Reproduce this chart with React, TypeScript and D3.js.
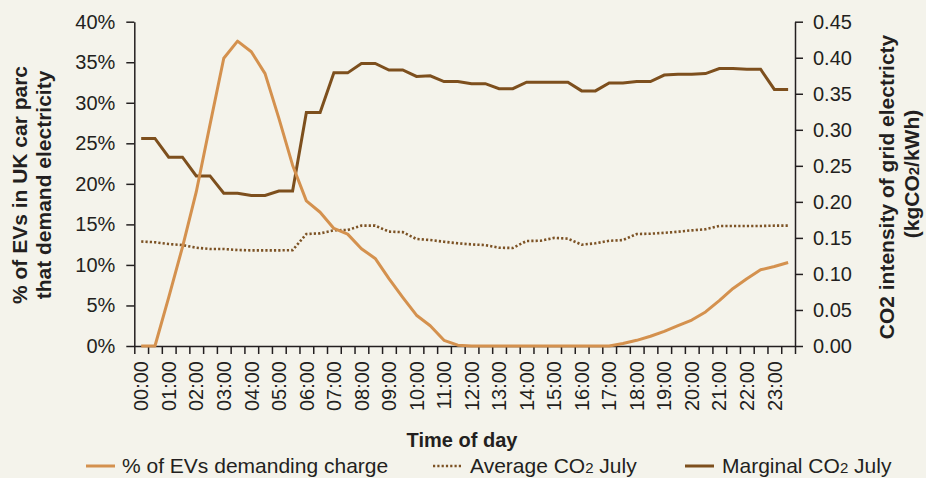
import React, { useRef, useEffect } from 'react';
import * as d3 from 'd3';

const slots = [
  '00:00', '00:30', '01:00', '01:30', '02:00', '02:30', '03:00', '03:30',
  '04:00', '04:30', '05:00', '05:30', '06:00', '06:30', '07:00', '07:30',
  '08:00', '08:30', '09:00', '09:30', '10:00', '10:30', '11:00', '11:30',
  '12:00', '12:30', '13:00', '13:30', '14:00', '14:30', '15:00', '15:30',
  '16:00', '16:30', '17:00', '17:30', '18:00', '18:30', '19:00', '19:30',
  '20:00', '20:30', '21:00', '21:30', '22:00', '22:30', '23:00', '23:30',
];

// % of EVs demanding charge (left axis, in %)
const evDemand = [
  0, 0, 6.0, 12.2, 19.0, 27.3, 35.5, 37.6, 36.3, 33.6, 28.1, 22.3,
  17.9, 16.5, 14.5, 13.8, 12.0, 10.8, 8.3, 6.0, 3.8, 2.5, 0.7, 0.1,
  0, 0, 0, 0, 0, 0, 0, 0, 0, 0, 0, 0.3,
  0.7, 1.2, 1.8, 2.5, 3.2, 4.2, 5.6, 7.1, 8.3, 9.4, 9.8, 10.3,
];

// kgCO2/kWh (right axis)
const averageCO2 = [
  0.145, 0.144, 0.1415, 0.14, 0.1364, 0.1346, 0.1346, 0.1332, 0.1327, 0.1327, 0.1327, 0.133,
  0.1554, 0.1563, 0.1605, 0.161, 0.167, 0.167, 0.1587, 0.158, 0.1485, 0.147, 0.1447, 0.1425,
  0.141, 0.14, 0.1364, 0.136, 0.1457, 0.146, 0.15, 0.149, 0.1406, 0.1425, 0.146, 0.147,
  0.1554, 0.1558, 0.157, 0.1586, 0.1605, 0.162, 0.1665, 0.1665, 0.1665, 0.1665, 0.167, 0.167,
];

const marginalCO2 = [
  0.288, 0.288, 0.262, 0.262, 0.236, 0.236, 0.212, 0.212, 0.209, 0.209, 0.215, 0.215,
  0.324, 0.324, 0.379, 0.379, 0.392, 0.392, 0.383, 0.383, 0.374, 0.375, 0.367, 0.367,
  0.364, 0.364, 0.357, 0.357, 0.366, 0.366, 0.366, 0.366, 0.354, 0.354, 0.365, 0.365,
  0.367, 0.367, 0.376, 0.377, 0.377, 0.378, 0.385, 0.385, 0.384, 0.384, 0.356, 0.356,
];

const leftTicks = [0, 5, 10, 15, 20, 25, 30, 35, 40];
const rightTicks = [0, 0.05, 0.1, 0.15, 0.2, 0.25, 0.3, 0.35, 0.4, 0.45];

const width = 926;
const height = 478;
const left = 134.3;
const right = 795;
const top = 21.7;
const bottom = 346;

const bg = '#f4f3eb';
const ink = '#231f20';
const evColor = '#d4914e';
const avgColor = '#7c5224';
const margColor = '#7d4f1d';
const font = '"Liberation Sans", Arial, sans-serif';

const App = () => {
  const svgRef = useRef(null);

  useEffect(() => {
    const svg = d3.select(svgRef.current);
    svg.selectAll('*').remove();

    svg.append('rect').attr('width', width).attr('height', height).attr('fill', bg);

    const x = d3.scaleBand().domain(slots).range([left, right]);
    const xEdge = d3.scaleLinear().domain([0, slots.length]).range([left, right]);
    const yL = d3.scaleLinear().domain([0, 40]).range([bottom, top]);
    const yR = d3.scaleLinear().domain([0, 0.45]).range([bottom, top]);
    const cx = (s) => x(s) + x.bandwidth() / 2;

    const styleAxis = (g) => {
      g.select('.domain').attr('stroke', ink).attr('stroke-width', 1.5);
      g.selectAll('.tick line').attr('stroke', ink).attr('stroke-width', 1.5);
      g.selectAll('.tick text')
        .attr('fill', ink)
        .attr('font-family', font)
        .attr('font-size', 20);
    };

    svg.append('g')
      .attr('transform', `translate(${left},0)`)
      .call(d3.axisLeft(yL).tickValues(leftTicks).tickFormat(d => `${d}%`)
        .tickSize(8).tickSizeOuter(0).tickPadding(11))
      .call(styleAxis)
      .attr('font-family', font);

    svg.append('g')
      .attr('transform', `translate(${right},0)`)
      .call(d3.axisRight(yR).tickValues(rightTicks).tickFormat(d3.format('.2f'))
        .tickSize(8).tickSizeOuter(0).tickPadding(10))
      .call(styleAxis)
      .attr('font-family', font);

    svg.append('g')
      .attr('transform', `translate(0,${bottom})`)
      .call(d3.axisBottom(xEdge).tickValues(d3.range(slots.length + 1)).tickFormat(() => '')
        .tickSize(8).tickSizeOuter(0))
      .call(styleAxis);

    // hourly labels, rotated
    svg.append('g')
      .selectAll('text')
      .data(slots.filter(s => s.endsWith(':00')))
      .enter()
      .append('text')
      .attr('transform', d => `translate(${cx(d)},${bottom + 15}) rotate(-90)`)
      .attr('text-anchor', 'end')
      .attr('dy', '0.36em')
      .attr('font-family', font)
      .attr('font-size', 20)
      .attr('fill', ink)
      .text(d => d);

    const evLine = d3.line()
      .x((d, i) => cx(slots[i]))
      .y(d => yL(d));

    const co2Line = d3.line()
      .x((d, i) => cx(slots[i]))
      .y(d => yR(d));

    svg.append('path')
      .attr('d', co2Line(averageCO2))
      .attr('fill', 'none')
      .attr('stroke', avgColor)
      .attr('stroke-width', 2.6)
      .attr('stroke-dasharray', '2.2 2.1');

    svg.append('path')
      .attr('d', co2Line(marginalCO2))
      .attr('fill', 'none')
      .attr('stroke', margColor)
      .attr('stroke-width', 3);

    svg.append('path')
      .attr('d', evLine(evDemand))
      .attr('fill', 'none')
      .attr('stroke', evColor)
      .attr('stroke-width', 3)
      .attr('stroke-linejoin', 'round');

    // axis titles
    const title = (tx, ty, lines) => {
      const t = svg.append('text')
        .attr('transform', `translate(${tx},${ty}) rotate(-90)`)
        .attr('text-anchor', 'middle')
        .attr('font-family', font)
        .attr('font-weight', 'bold')
        .attr('font-size', 21)
        .attr('fill', ink);
      lines(t);
    };

    title(27, 185, t => t.text('% of EVs in UK car parc'));
    title(51, 185, t => t.text('that demand electricity'));
    title(894, 187, t => t.text('CO2 intensity of grid electricty'));
    title(919, 174, t => {
      t.append('tspan').text('(kgCO');
      t.append('tspan').attr('font-size', 15).text('2');
      t.append('tspan').text('/kWh)');
    });

    svg.append('text')
      .attr('x', 462)
      .attr('y', 447)
      .attr('text-anchor', 'middle')
      .attr('font-family', font)
      .attr('font-weight', 'bold')
      .attr('font-size', 20)
      .attr('fill', ink)
      .text('Time of day');

    // legend
    const legendY = 466;
    const legend = [
      { x1: 86, x2: 115, tx: 122, color: evColor, dash: null, width: 3, parts: ['% of EVs demanding charge'] },
      { x1: 433, x2: 463, tx: 470, color: avgColor, dash: '2.2 2.1', width: 2.6, parts: ['Average CO', '2', ' July'] },
      { x1: 685, x2: 714, tx: 722, color: margColor, dash: null, width: 3, parts: ['Marginal CO', '2', ' July'] },
    ];

    const items = svg.append('g').selectAll('g').data(legend).enter().append('g');
    items.append('line')
      .attr('x1', d => d.x1)
      .attr('x2', d => d.x2)
      .attr('y1', legendY)
      .attr('y2', legendY)
      .attr('stroke', d => d.color)
      .attr('stroke-width', d => d.width)
      .attr('stroke-dasharray', d => d.dash);
    const texts = items.append('text')
      .attr('x', d => d.tx)
      .attr('y', legendY + 7)
      .attr('font-family', font)
      .attr('font-size', 21)
      .attr('fill', ink);
    texts.each(function (d) {
      const t = d3.select(this);
      d.parts.forEach((p, i) => {
        t.append('tspan').attr('font-size', i === 1 ? 15 : 21).text(p);
      });
    });
  }, []);

  return (
    <svg
      ref={svgRef}
      width={width}
      height={height}
      style={{ position: 'fixed', left: 0, top: 0, display: 'block' }}
    ></svg>
  );
};

export default App;
